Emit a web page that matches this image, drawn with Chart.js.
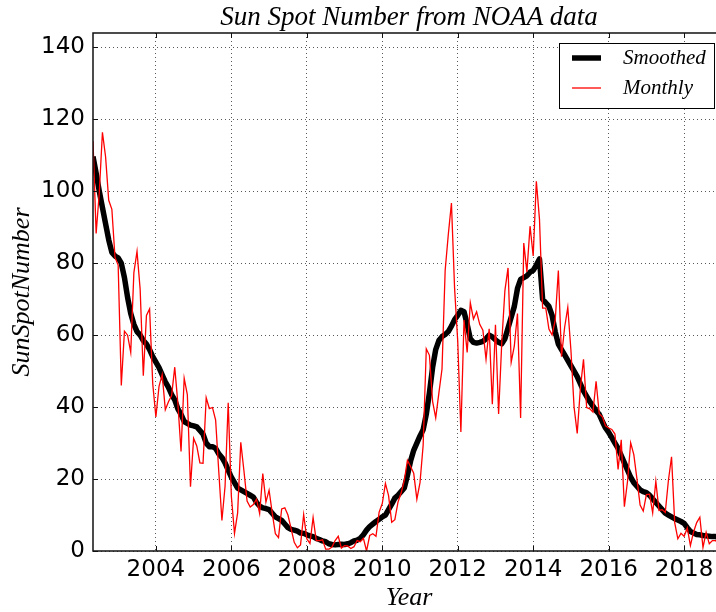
<!DOCTYPE html>
<html>
<head>
<meta charset="utf-8">
<script src="https://cdn.jsdelivr.net/npm/chart.js@4.4.0/dist/chart.umd.min.js"></script>
<style>
  html, body { margin: 0; padding: 0; background: #fff; overflow: hidden; }
  #chart { display: block; }
</style>
</head>
<body>
<canvas id="chart" width="726" height="612"></canvas>
<script>
// Sunspot numbers, one value per month starting May 2002
const startYear = 2002;
const startMonth = 5;

const monthly = [
  114.0, 88.3, 99.6, 116.4, 109.6, 97.5, 95.0, 81.6,                 // 2002 (May-Dec)
  79.5, 46.0, 61.1, 60.0, 55.2, 77.4, 83.3, 72.7, 48.7, 65.5, 67.3, 46.5, // 2003
  37.3, 45.8, 49.1, 39.3, 41.5, 43.2, 51.1, 40.9, 27.7, 48.0, 43.5, 17.9, // 2004
  31.3, 29.2, 24.5, 24.4, 42.6, 39.6, 39.9, 36.4, 22.1, 8.5, 18.0, 41.2,  // 2005
  15.3, 4.9, 10.6, 30.2, 22.3, 13.9, 12.2, 12.9, 14.4, 10.4, 21.5, 13.6,  // 2006
  16.9, 10.6, 4.8, 3.7, 11.7, 12.0, 10.0, 6.2, 2.4, 0.9, 1.7, 10.1,       // 2007
  3.4, 2.1, 9.3, 2.9, 2.9, 3.1, 0.5, 0.5, 1.1, 2.9, 4.1, 0.8,             // 2008
  1.5, 1.4, 0.7, 1.2, 2.9, 2.6, 3.5, 0.0, 4.3, 4.8, 4.1, 10.8,            // 2009
  13.2, 18.8, 15.4, 8.0, 8.7, 13.6, 16.1, 19.6, 25.2, 23.5, 21.6, 14.4,   // 2010
  19.0, 29.4, 56.2, 54.4, 41.6, 37.0, 43.9, 50.6, 78.0, 88.0, 96.7, 73.0, // 2011
  58.3, 33.1, 64.2, 55.2, 69.0, 64.5, 66.5, 63.0, 61.4, 53.3, 61.8, 40.8, // 2012
  62.9, 38.1, 57.9, 72.4, 78.7, 52.5, 57.0, 66.0, 37.0, 85.6, 77.6, 90.3, // 2013
  82.0, 102.8, 92.2, 67.5, 67.5, 61.7, 60.1, 64.1, 78.0, 54.0, 62.2, 67.7, // 2014
  55.8, 40.0, 32.7, 45.2, 53.3, 39.9, 39.5, 38.6, 47.2, 38.2, 37.3, 34.8, // 2015
  34.2, 33.8, 32.5, 22.7, 30.9, 12.3, 19.4, 30.1, 26.8, 20.0, 12.8, 11.1, // 2016
  15.7, 15.8, 10.6, 19.4, 11.3, 11.5, 10.7, 19.6, 26.2, 7.9, 3.4, 4.9,    // 2017
  4.1, 6.4, 1.5, 5.3, 7.9, 9.4, 1.0, 5.2, 2.0, 2.9, 2.9, 1.9,             // 2018
  4.6, 0.5                                                                // 2019 (Jan-Feb)
];

const smoothed = [
  109.7, 105.0, 100.0, 95.5, 91.0, 86.5, 83.0, 82.0,                      // 2002
  81.5, 80.0, 76.0, 70.5, 66.0, 63.0, 61.0, 60.0, 58.5, 57.5, 56.0, 54.0, // 2003
  52.5, 51.0, 49.0, 47.0, 45.5, 43.5, 42.0, 39.5, 38.0, 36.0, 35.5, 35.0, // 2004
  34.8, 34.5, 33.5, 32.5, 30.0, 29.0, 29.0, 28.5, 27.0, 26.0, 24.5, 22.5, // 2005
  20.5, 19.0, 17.5, 17.0, 16.5, 16.0, 15.5, 15.0, 13.5, 12.5, 12.0, 11.8, // 2006
  11.5, 10.5, 9.5, 9.0, 8.5, 7.5, 6.5, 6.0, 5.8, 5.5, 5.0, 4.9,           // 2007
  4.5, 4.2, 4.0, 3.5, 3.2, 2.8, 2.6, 2.0, 1.8, 1.7, 1.8, 1.9,             // 2008
  1.8, 2.0, 2.3, 2.8, 3.0, 3.5, 4.5, 5.8, 6.8, 7.5, 8.2, 8.8,             // 2009
  9.5, 10.0, 11.5, 13.0, 14.7, 15.5, 16.5, 17.5, 21.0, 25.0, 28.0, 30.0,  // 2010
  32.0, 33.7, 38.0, 44.0, 51.0, 56.0, 58.5, 59.6, 60.2, 61.0, 62.5, 64.3, // 2011
  65.5, 66.9, 66.5, 63.0, 59.0, 58.0, 57.8, 58.0, 58.3, 59.0, 60.0, 59.5, // 2012
  58.7, 58.0, 57.6, 59.0, 62.0, 65.0, 68.0, 73.0, 75.5, 76.0, 76.5, 77.5, // 2013
  78.0, 79.5, 81.2, 70.0, 69.0, 68.0, 65.5, 61.0, 57.5, 56.0, 54.5, 53.0, // 2014
  51.5, 50.0, 48.5, 46.5, 44.5, 43.0, 41.5, 40.3, 39.0, 38.0, 36.0, 34.2, // 2015
  33.0, 31.5, 30.0, 28.5, 26.5, 24.5, 22.5, 20.5, 19.0, 18.0, 17.0, 16.5, // 2016
  16.2, 15.5, 14.5, 13.5, 12.5, 11.5, 10.5, 10.0, 9.5, 9.0, 8.6, 8.2,     // 2017
  7.7, 6.5, 5.4, 5.0, 4.6, 4.5, 4.3, 4.2, 4.1, 4.0, 4.0, 3.8,             // 2018
  3.5, 3.5                                                                // 2019
];

const yearTickStep = 2;
const ssnTickStep = 20;
const ssnMax = 144;

// decimal year for each month
const months = monthly.map((_, i) => startYear + (startMonth - 1 + i) / 12);
const toPoints = vals => vals.map((v, i) => ({ x: months[i], y: v }));

const serif = 'Liberation Serif';

// full frame around the plot with inward ticks on all four sides
const frame = {
  id: 'frame',
  afterDatasetsDraw(chart) {
    const { ctx, chartArea: a, scales: { x, y } } = chart;
    ctx.save();
    ctx.strokeStyle = '#111';
    ctx.lineWidth = 1;
    ctx.beginPath();
    x.ticks.forEach(t => {
      const px = Math.round(x.getPixelForValue(t.value)) + 0.5;
      ctx.moveTo(px, a.bottom); ctx.lineTo(px, a.bottom - 5);
      ctx.moveTo(px, a.top); ctx.lineTo(px, a.top + 5);
    });
    y.ticks.forEach(t => {
      const py = Math.round(y.getPixelForValue(t.value)) + 0.5;
      ctx.moveTo(a.left, py); ctx.lineTo(a.left + 5, py);
      ctx.moveTo(a.right, py); ctx.lineTo(a.right - 5, py);
    });
    ctx.stroke();
    ctx.lineWidth = 1.5;
    ctx.strokeRect(a.left, a.top, a.right - a.left, a.bottom - a.top);
    ctx.restore();
  }
};

// boxed legend in the upper right corner, smoothed line listed first
const legendBox = {
  id: 'legendBox',
  afterDraw(chart) {
    const { ctx, chartArea: a } = chart;
    const sets = chart.data.datasets.slice().reverse();
    const w = 155, h = 65;
    const left = a.right - 11 - w, top = a.top + 10;
    ctx.save();
    ctx.fillStyle = '#fff';
    ctx.fillRect(left, top, w, h);
    ctx.strokeStyle = '#000';
    ctx.lineWidth = 1;
    ctx.strokeRect(left + 0.5, top + 0.5, w, h);
    ctx.font = 'italic 21px "' + serif + '"';
    ctx.textBaseline = 'middle';
    ctx.fillStyle = '#000';
    sets.forEach((ds, i) => {
      const cy = top + 15 + i * 30;
      ctx.beginPath();
      ctx.strokeStyle = ds.borderColor;
      ctx.lineWidth = ds.borderWidth;
      ctx.moveTo(left + 13, cy);
      ctx.lineTo(left + 42, cy);
      ctx.stroke();
      ctx.fillText(ds.label, left + 64, cy);
    });
    ctx.restore();
  }
};

new Chart(document.getElementById('chart'), {
  type: 'line',
  data: {
    datasets: [
      {
        label: 'Monthly',
        data: toPoints(monthly),
        borderColor: '#ff0000',
        borderWidth: 1.3,
        pointRadius: 0,
        tension: 0
      },
      {
        label: 'Smoothed',
        data: toPoints(smoothed),
        borderColor: '#000000',
        borderWidth: 5.5,
        borderJoinStyle: 'round',
        pointRadius: 0,
        tension: 0
      }
    ]
  },
  options: {
    responsive: false,
    animation: false,
    layout: { padding: { left: 0, right: 1, top: 0, bottom: 0 } },
    plugins: {
      legend: { display: false },
      tooltip: { enabled: false },
      title: {
        display: true,
        text: 'Sun Spot Number from NOAA data',
        fullSize: false,
        color: '#000',
        font: { family: serif, style: 'italic', weight: 'normal', size: 27, lineHeight: 1 },
        padding: { top: 4, bottom: 2 }
      }
    },
    scales: {
      x: {
        type: 'linear',
        min: months[0],
        max: months[months.length - 1],
        ticks: {
          stepSize: yearTickStep,
          includeBounds: false,
          maxRotation: 0,
          padding: 5,
          color: '#000',
          font: { family: 'DejaVu Sans', size: 23 },
          callback: v => String(v)
        },
        grid: { color: 'rgba(0,0,0,0.65)', lineWidth: 1, drawTicks: false },
        border: { display: false, dash: [1, 3] },
        title: {
          display: true,
          text: 'Year',
          color: '#000',
          font: { family: serif, style: 'italic', size: 26, lineHeight: 1 },
          padding: { top: 0, bottom: 1 }
        },
        afterFit: s => { s.height = 61; }
      },
      y: {
        min: 0,
        max: ssnMax,
        ticks: {
          stepSize: ssnTickStep,
          includeBounds: false,
          padding: 8,
          color: '#000',
          font: { family: 'DejaVu Sans', size: 23 }
        },
        grid: { color: 'rgba(0,0,0,0.65)', lineWidth: 1, drawTicks: false },
        border: { display: false, dash: [1, 3] },
        title: {
          display: true,
          text: 'SunSpotNumber',
          color: '#000',
          font: { family: serif, style: 'italic', size: 26, lineHeight: 1 },
          padding: { top: 9, bottom: 0 }
        },
        afterFit: s => { s.width = 93; }
      }
    }
  },
  plugins: [frame, legendBox]
});
</script>
</body>
</html>
